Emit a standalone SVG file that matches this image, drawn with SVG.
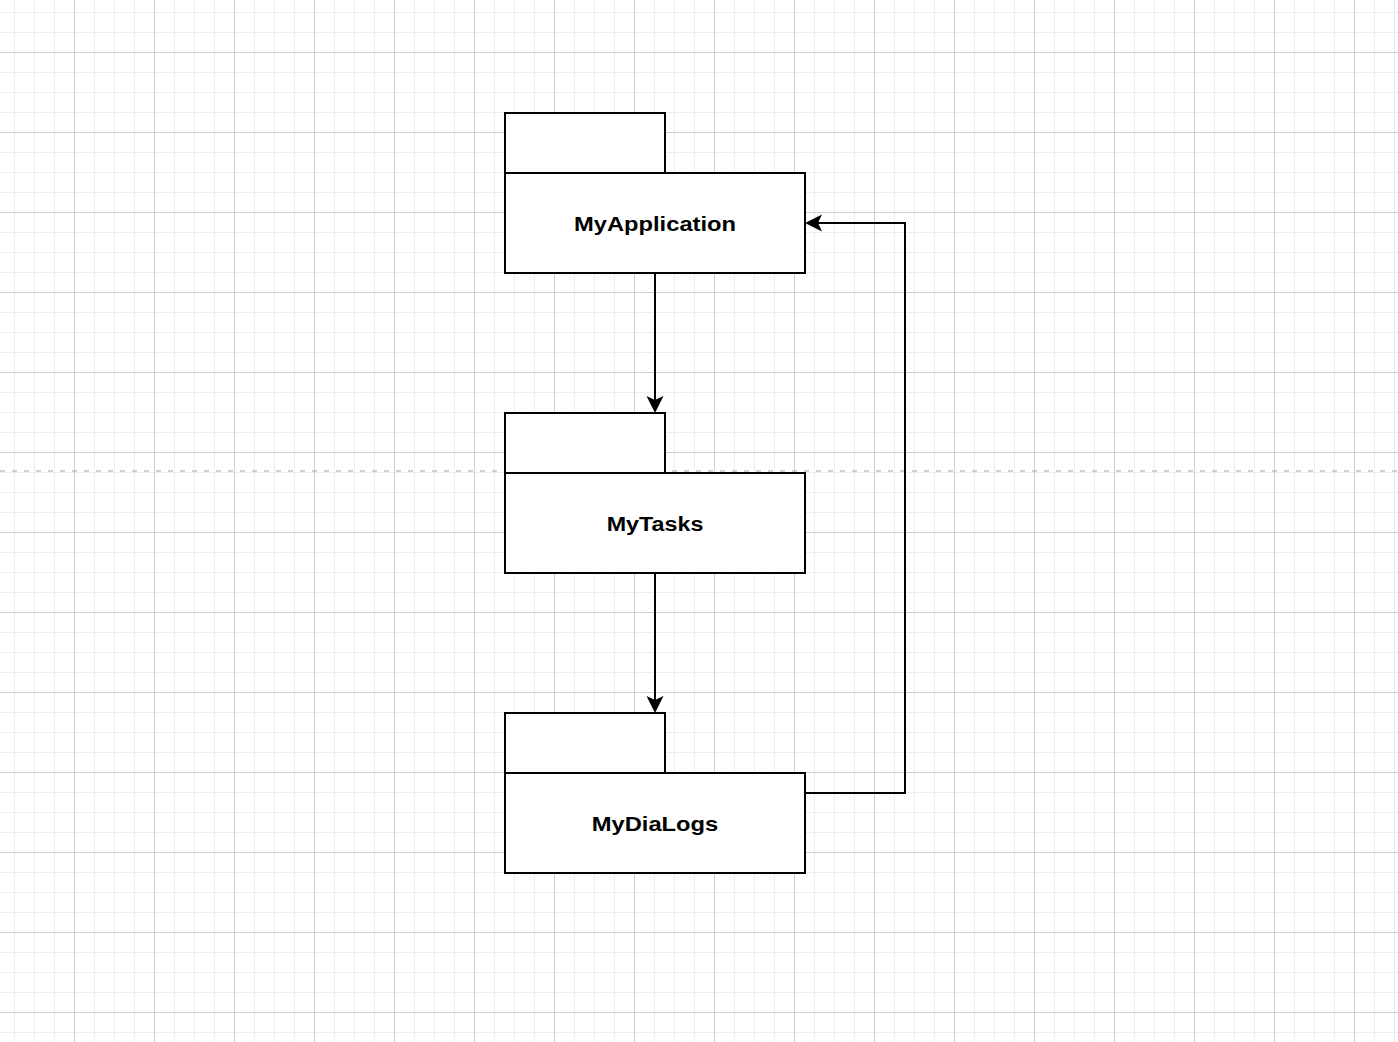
<svg xmlns="http://www.w3.org/2000/svg" width="1398" height="1042" viewBox="0 0 1398 1042">
  <style>
    .box { fill: #ffffff; stroke: #000000; stroke-width: 2; }
    .label { font-family: "Liberation Sans", Arial, Helvetica, sans-serif; font-weight: bold; font-size: 21px; fill: #000000; text-anchor: middle; }
    .edge { fill: none; stroke: #000000; stroke-width: 2; }
    .pagebreak { stroke: #c0c0c0; stroke-width: 1.5; stroke-dasharray: 5 7; fill: none; }
  </style>
  <defs>
    <pattern id="grid" patternUnits="userSpaceOnUse" x="74" y="52" width="80" height="80">
      <rect x="0" y="0" width="80" height="80" fill="#ffffff"/>
      <rect x="20" y="0" width="1" height="80" fill="#ededed"/>
      <rect x="40" y="0" width="1" height="80" fill="#ededed"/>
      <rect x="60" y="0" width="1" height="80" fill="#ededed"/>
      <rect x="0" y="20" width="80" height="1" fill="#ededed"/>
      <rect x="0" y="40" width="80" height="1" fill="#ededed"/>
      <rect x="0" y="60" width="80" height="1" fill="#ededed"/>
      <rect x="0" y="0" width="1" height="80" fill="#d0d0d0"/>
      <rect x="0" y="0" width="80" height="1" fill="#d0d0d0"/>
    </pattern>
    <marker id="arrow" markerUnits="userSpaceOnUse" viewBox="-20 -10 22 20" markerWidth="22" markerHeight="20" refX="-3" refY="0" orient="auto">
      <path d="M0,0 L-17,-8.5 L-13,0 L-17,8.5 Z" fill="#000000" stroke="none"/>
    </marker>
  </defs>

  <rect x="0" y="0" width="1398" height="1042" fill="url(#grid)"/>
  <line class="pagebreak" x1="0" y1="471" x2="1398" y2="471"/>

  <g id="connectors">
    <path id="edge-app-tasks" class="edge" d="M655,273 V410" marker-end="url(#arrow)"/>
    <path id="edge-tasks-dialogs" class="edge" d="M655,573 V710" marker-end="url(#arrow)"/>
    <path id="edge-dialogs-app" class="edge" d="M805,793 H905 V223 H808" marker-end="url(#arrow)"/>
  </g>

  <g id="node-myapplication">
    <rect class="box" x="505" y="113" width="160" height="60"/>
    <rect class="box" x="505" y="173" width="300" height="100"/>
    <text class="label" transform="translate(655,230.5) scale(1.13,1)">MyApplication</text>
  </g>

  <g id="node-mytasks">
    <rect class="box" x="505" y="413" width="160" height="60"/>
    <rect class="box" x="505" y="473" width="300" height="100"/>
    <text class="label" transform="translate(655,530.5) scale(1.11,1)">MyTasks</text>
  </g>

  <g id="node-mydialogs">
    <rect class="box" x="505" y="713" width="160" height="60"/>
    <rect class="box" x="505" y="773" width="300" height="100"/>
    <text class="label" transform="translate(655,830.5) scale(1.13,1)">MyDiaLogs</text>
  </g>
</svg>
